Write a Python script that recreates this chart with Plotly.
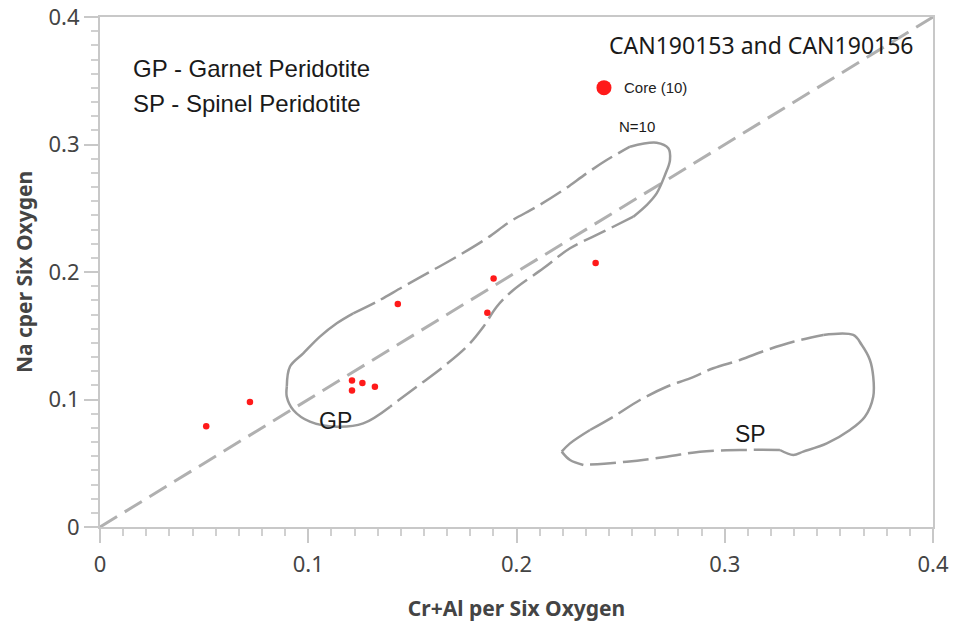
import plotly.graph_objects as go

# Core analyses (Cr+Al vs Na per six oxygen)
core_x = [0.051, 0.072, 0.121, 0.126, 0.121, 0.132, 0.143, 0.189, 0.186, 0.238]
core_y = [0.079, 0.098, 0.115, 0.113, 0.107, 0.110, 0.175, 0.195, 0.168, 0.207]

# 1:1 reference line
ref_x = [0.0, 0.4]
ref_y = [0.0, 0.4]

# Garnet peridotite field outline
gp_x = [0.0897, 0.0912, 0.0976, 0.1056, 0.1137, 0.1216, 0.1329, 0.1456, 0.1585, 0.1713,
        0.1857, 0.1969, 0.2097, 0.2225, 0.2337, 0.2433, 0.2545, 0.2673, 0.2729, 0.2737,
        0.2713, 0.2673, 0.2625, 0.2561, 0.2417, 0.2257, 0.2129, 0.1985, 0.1905, 0.1841,
        0.1761, 0.1649, 0.1521, 0.1393, 0.1264, 0.1137, 0.1008, 0.0928, 0.0897, 0.0897]
gp_y = [0.1100, 0.1257, 0.1362, 0.1493, 0.1598, 0.1676, 0.1767, 0.1885, 0.2002, 0.2120,
        0.2264, 0.2395, 0.2512, 0.2643, 0.2774, 0.2878, 0.2983, 0.3014, 0.2970, 0.2878,
        0.2761, 0.2617, 0.2525, 0.2434, 0.2316, 0.2186, 0.2029, 0.1859, 0.1728, 0.1571,
        0.1414, 0.1257, 0.1100, 0.0944, 0.0813, 0.0787, 0.0826, 0.0918, 0.1022, 0.1100]

# Spinel peridotite field outline
sp_x = [0.2217, 0.2257, 0.2353, 0.2465, 0.2593, 0.2721, 0.2833, 0.2945, 0.3073, 0.3201,
        0.3329, 0.3473, 0.3617, 0.3658, 0.3697, 0.3713, 0.3713, 0.3673, 0.3601, 0.3490,
        0.3377, 0.3329, 0.3265, 0.3073, 0.2881, 0.2721, 0.2529, 0.2321, 0.2257, 0.2217]
sp_y = [0.0591, 0.0656, 0.0761, 0.0865, 0.0996, 0.1100, 0.1166, 0.1245, 0.1310, 0.1388,
        0.1453, 0.1506, 0.1506, 0.1427, 0.1310, 0.1179, 0.1022, 0.0865, 0.0761, 0.0656,
        0.0591, 0.0565, 0.0604, 0.0604, 0.0591, 0.0551, 0.0512, 0.0486, 0.0525, 0.0591]

# Labels
note_text = ["GP - Garnet Peridotite", "SP - Spinel Peridotite"]
note_x = [0.0149, 0.0149]
note_y = [0.360, 0.332]
sample_text = "CAN190153 and CAN190156"
sample_x, sample_y = 0.2435, 0.378
field_text = ["GP", "SP"]
field_x = [0.1133, 0.3126]
field_y = [0.0831, 0.0729]

x_ticks = [0, 0.1, 0.2, 0.3, 0.4]
x_ticklabels = ["0", "0.1", "0.2", "0.3", "0.4"]
minor_vals = [round(k * 0.1 + j * 0.1 / 9, 5) for k in range(4) for j in range(1, 9)]

CONTOUR = "#9a9a9a"
ARIAL = "Liberation Sans, Arial"

fig = go.Figure()

fig.add_trace(go.Scatter(x=ref_x, y=ref_y, mode="lines", showlegend=False, hoverinfo="skip",
                         line=dict(color="#b0b0b0", width=3, dash="20px,9px")))


def add_outline(xs, ys, segs):
    for (a, b, dash) in segs:
        fig.add_trace(go.Scatter(x=xs[a:b + 1], y=ys[a:b + 1], mode="lines", showlegend=False,
                                 hoverinfo="skip",
                                 line=dict(color=CONTOUR, width=2.5, dash=dash, shape="spline")))


add_outline(gp_x, gp_y, [(0, 5, "solid"), (5, 16, "24px,7px"), (16, 23, "solid"),
                         (23, 33, "24px,7px"), (33, 39, "solid")])
add_outline(sp_x, sp_y, [(0, 2, "solid"), (2, 11, "26px,7px"), (11, 22, "solid"),
                         (22, 27, "26px,7px"), (27, 29, "solid")])

fig.add_trace(go.Scatter(x=core_x, y=core_y, mode="markers", name="Core (10)", showlegend=False,
                         marker=dict(color="#ff1a1a", size=6.5)))
# legend entry (bigger symbol, as in the reference key)
fig.add_trace(go.Scatter(x=[None], y=[None], mode="markers", name="Core (10)",
                         marker=dict(color="#ff1a1a", size=15)))

for t, x, y in zip(note_text, note_x, note_y):
    fig.add_annotation(x=x, y=y, text=t, showarrow=False, xanchor="left", yanchor="middle",
                       font=dict(family=ARIAL, size=24, color="#1a1a1a"))
fig.add_annotation(x=sample_x, y=sample_y, text=sample_text, showarrow=False,
                   xanchor="left", yanchor="middle",
                   font=dict(family="Noto Sans", size=23, color="#1a1a1a"))
for t, x, y in zip(field_text, field_x, field_y):
    fig.add_annotation(x=x, y=y, text=t, showarrow=False, xanchor="center", yanchor="middle",
                       font=dict(family=ARIAL, size=23, color="#1a1a1a"))
fig.add_annotation(x=0.2579, y=0.3145, text="N=10", showarrow=False,
                   font=dict(family=ARIAL, size=15, color="#1a1a1a"))

axis_common = dict(
    range=[0, 0.4], tickvals=x_ticks, ticktext=x_ticklabels,
    ticks="outside", ticklen=14, tickwidth=2, tickcolor="#c8c8c8",
    showline=True, linecolor="#c8c8c8", linewidth=2, mirror=True,
    showgrid=False, zeroline=False, automargin=False,
    tickfont=dict(family="Noto Sans", size=22, color="#444"),
    minor=dict(tickvals=minor_vals, ticks="outside", ticklen=7, tickwidth=1.5, tickcolor="#d0d0d0"),
)

fig.update_layout(
    width=971, height=629,
    margin=dict(l=100, r=38, t=17, b=102),
    plot_bgcolor="white", paper_bgcolor="white",
    xaxis=dict(**axis_common, ticklabelstandoff=3,
               title=dict(text="<b>Cr+Al per Six Oxygen</b>", standoff=24,
                          font=dict(family="Noto Sans", size=21, color="#444"))),
    yaxis=dict(**axis_common,
               title=dict(text="<b>Na cper Six Oxygen</b>", standoff=10,
                          font=dict(family="Noto Sans", size=21, color="#444"))),
    legend=dict(x=0.581, y=0.861, xanchor="left", yanchor="middle", itemsizing="trace",
                bgcolor="rgba(0,0,0,0)", font=dict(family=ARIAL, size=15, color="#222")),
    showlegend=True,
)

fig.write_html("out.html")
